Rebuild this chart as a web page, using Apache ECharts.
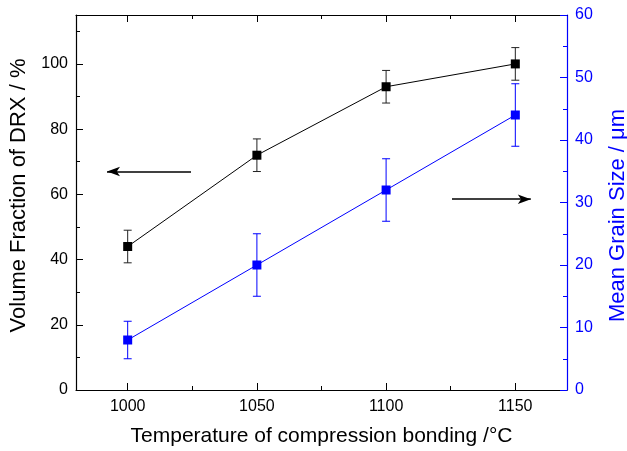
<!DOCTYPE html>
<html><head><meta charset="utf-8">
<script src="https://cdn.jsdelivr.net/npm/echarts@6/dist/echarts.min.js"></script>
<style>html,body{margin:0;padding:0;background:#fff}#c{width:627px;height:451px}</style>
</head><body><div id="c"></div>
<script>
const temperatures = [1000, 1050, 1100, 1150];
const drx = [44, 72, 93, 100];
const drxErr = [5, 5, 5, 5];
const grain = [8, 20, 32, 44];
const grainErr = [3, 5, 5, 5];
const xMajor = [1000, 1050, 1100, 1150];
const xMinor = [1025, 1075, 1125];
const leftMajor = [0, 20, 40, 60, 80, 100];
const leftMinor = [10, 30, 50, 70, 90, 110];
// arrows: [xStart, yStart(left axis), xEnd, yEnd]
const arrowLeft = [1024.5, 67, 992, 67];
const arrowRight = [1125.5, 58.5, 1156, 58.5];

const FONT = 'Liberation Sans, Arial, sans-serif';
const BLUE = '#0000ff';

function errBar(color) {
  return function (params, api) {
    const x = api.value(0), y = api.value(1), e = api.value(2);
    const t = api.coord([x, y + e]), b = api.coord([x, y - e]);
    const hw = 4;
    const st = { stroke: color, lineWidth: 1 };
    return { type: 'group', children: [
      { type: 'line', shape: { x1: t[0], y1: t[1], x2: b[0], y2: b[1] }, style: st },
      { type: 'line', shape: { x1: t[0] - hw, y1: t[1], x2: t[0] + hw, y2: t[1] }, style: st },
      { type: 'line', shape: { x1: b[0] - hw, y1: b[1], x2: b[0] + hw, y2: b[1] }, style: st }
    ]};
  };
}

const chart = echarts.init(document.getElementById('c'), null, { renderer: 'canvas' });
const xBase = { type: 'value', min: 980, max: 1170, splitLine: { show: false } };
const lineBlack = { lineStyle: { color: '#000', width: 1.2 } };
chart.setOption({
  animation: false,
  backgroundColor: '#fff',
  textStyle: { fontFamily: FONT },
  grid: { left: 76, right: 60, top: 15, bottom: 61, containLabel: false, outerBoundsMode: 'none' },
  xAxis: [
    Object.assign({}, xBase, {
      position: 'bottom',
      name: 'Temperature of compression bonding /°C', nameLocation: 'middle', nameGap: 36,
      nameTextStyle: { fontSize: 21, color: '#000', fontFamily: FONT },
      axisLine: Object.assign({ show: true, onZero: false }, lineBlack),
      axisTick: { show: true, inside: true, length: 7, customValues: xMajor, lineStyle: { color: '#000' } },
      axisLabel: { show: true, customValues: xMajor, fontSize: 16, color: '#000', margin: 9, fontFamily: FONT,
        formatter: v => String(v) }
    }),
    Object.assign({}, xBase, {
      position: 'bottom',
      axisLine: { show: false, onZero: false },
      axisTick: { show: true, inside: true, length: 4, customValues: xMinor, lineStyle: { color: '#000' } },
      axisLabel: { show: false }
    }),
    Object.assign({}, xBase, {
      position: 'top',
      axisLine: Object.assign({ show: true, onZero: false }, lineBlack),
      axisTick: { show: true, inside: true, length: 7, customValues: xMajor, lineStyle: { color: '#000' } },
      axisLabel: { show: false }
    }),
    Object.assign({}, xBase, {
      position: 'top',
      axisLine: { show: false, onZero: false },
      axisTick: { show: true, inside: true, length: 4, customValues: xMinor, lineStyle: { color: '#000' } },
      axisLabel: { show: false }
    })
  ],
  yAxis: [
    {
      type: 'value', min: 0, max: 115, position: 'left',
      name: 'Volume Fraction of DRX / %', nameLocation: 'middle', nameGap: 44,
      nameTextStyle: { fontSize: 22, color: '#000', fontFamily: FONT, padding: [0, 0, 0, 14] },
      splitLine: { show: false },
      axisLine: Object.assign({ show: true, onZero: false }, lineBlack),
      axisTick: { show: true, inside: true, length: 7, customValues: leftMajor, lineStyle: { color: '#000' } },
      axisLabel: { show: true, customValues: leftMajor, fontSize: 16, color: '#000', margin: 8, fontFamily: FONT }
    },
    {
      type: 'value', min: 0, max: 60, interval: 10, position: 'right',
      name: 'Mean Grain Size / μm', nameLocation: 'middle', nameGap: 40, nameRotate: 90,
      nameTextStyle: { fontSize: 22, color: BLUE, fontFamily: FONT, padding: [0, 26, 0, 0] },
      splitLine: { show: false },
      axisLine: { show: true, onZero: false, lineStyle: { color: BLUE, width: 1.2 } },
      axisTick: { show: true, inside: true, length: 7, lineStyle: { color: BLUE } },
      minorTick: { show: true, splitNumber: 2, length: 4, lineStyle: { color: BLUE } },
      axisLabel: { show: true, fontSize: 16, color: BLUE, margin: 8, fontFamily: FONT }
    },
    {
      type: 'value', min: 0, max: 115, position: 'left',
      splitLine: { show: false },
      axisLine: { show: false, onZero: false },
      axisTick: { show: true, inside: true, length: 4, customValues: leftMinor, lineStyle: { color: '#000' } },
      axisLabel: { show: false }
    }
  ],
  series: [
    {
      type: 'custom', xAxisIndex: 0, yAxisIndex: 0, z: 2,
      renderItem: errBar('#222'),
      data: temperatures.map((t, i) => [t, drx[i], drxErr[i]])
    },
    {
      type: 'custom', xAxisIndex: 0, yAxisIndex: 1, z: 2,
      renderItem: errBar(BLUE),
      data: temperatures.map((t, i) => [t, grain[i], grainErr[i]])
    },
    {
      type: 'line', xAxisIndex: 0, yAxisIndex: 0, z: 3,
      data: temperatures.map((t, i) => [t, drx[i]]),
      symbol: 'rect', symbolSize: 9, showSymbol: true,
      lineStyle: { color: '#000', width: 1 }, itemStyle: { color: '#000' },
      markLine: {
        silent: true, animation: false,
        symbol: ['none', 'arrow'], symbolSize: [7, 13],
        lineStyle: { color: '#000', width: 1.6, type: 'solid' },
        label: { show: false },
        data: [
          [{ coord: [arrowLeft[0], arrowLeft[1]] }, { coord: [arrowLeft[2], arrowLeft[3]] }],
          [{ coord: [arrowRight[0], arrowRight[1]] }, { coord: [arrowRight[2], arrowRight[3]] }]
        ]
      }
    },
    {
      type: 'line', xAxisIndex: 0, yAxisIndex: 1, z: 3,
      data: temperatures.map((t, i) => [t, grain[i]]),
      symbol: 'rect', symbolSize: 9, showSymbol: true,
      lineStyle: { color: BLUE, width: 1 }, itemStyle: { color: BLUE }
    }
  ]
});
</script>
</body></html>
